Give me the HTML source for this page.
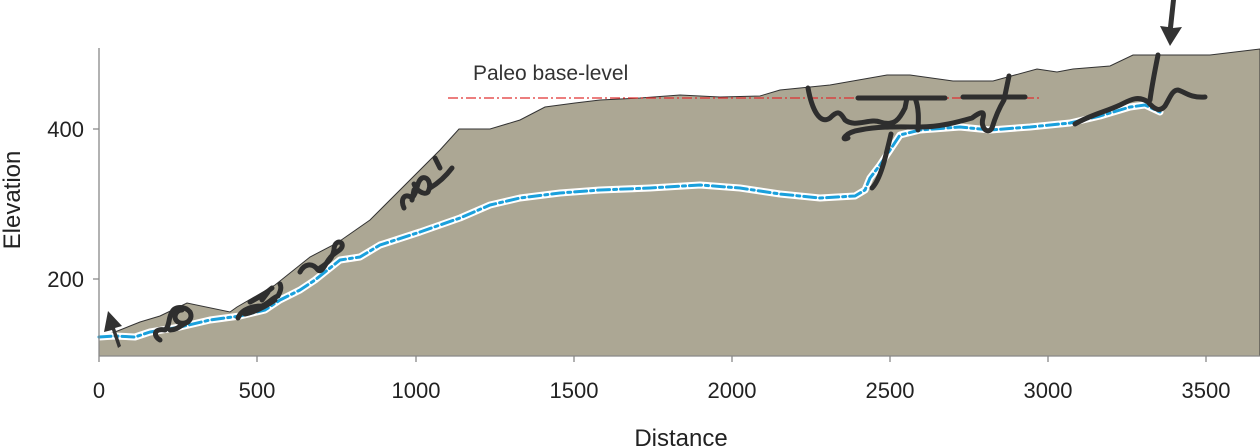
<!DOCTYPE html>
<html><head><meta charset="utf-8"><style>
html,body{margin:0;padding:0;background:#fff;}
svg{display:block;font-family:"Liberation Sans",sans-serif;}
</style></head><body>
<svg width="1260" height="446" viewBox="0 0 1260 446">
<path d="M99,338 L120,330 L140,322 L160,316 L187,303 L230,312 L237,307 L275,285 L310,257 L337,243 L370,220 L440,150 L459,129 L490,129 L520,120 L545,107 L575,103 L600,100 L640,98 L680,95 L720,97 L760,96 L780,90 L830,85 L887,75 L910,75 L953,81 L993,81 L1037,69 L1057,72 L1073,69 L1110,66 L1133,55 L1210,55 L1260,49 L1260,356 L99,356 Z" fill="#aca794" stroke="#333" stroke-width="1"/>
<path d="M448,98 L1042,98" stroke="#e03030" stroke-width="1.3" stroke-dasharray="10,3,2,3" fill="none"/>
<text x="473" y="80" font-size="21" fill="#333">Paleo base-level</text>
<g fill="none" stroke-linecap="round" stroke-linejoin="round">
<path d="M99,337 L115,336 L135,337 L150,332 L180,327 L210,320 L240,316 L265,310 L280,300 L300,290 L315,280 L340,260 L360,257 L380,245 L420,232 L460,218 L490,205 L520,198 L560,193 L600,190 L650,188 L700,185 L740,188 L780,194 L820,198 L855,196 L865,190 L870,178 L880,165 L890,150 L900,135 L920,130 L960,127 L990,130 L1030,127 L1070,123 L1100,116 L1130,107 L1145,105 L1160,112" stroke="#fff" stroke-width="7"/>
<path d="M99,337 L115,336 L135,337 L150,332 L180,327 L210,320 L240,316 L265,310 L280,300 L300,290 L315,280 L340,260 L360,257 L380,245 L420,232 L460,218 L490,205 L520,198 L560,193 L600,190 L650,188 L700,185 L740,188 L780,194 L820,198 L855,196 L865,190 L870,178 L880,165 L890,150 L900,135 L920,130 L960,127 L990,130 L1030,127 L1070,123 L1100,116 L1130,107 L1145,105 L1160,112" stroke="#1aa0dc" stroke-width="3" stroke-dasharray="12,4,3,4"/>
<g stroke="#2e2e2e" stroke-width="5">
<path d="M160,340 C152,335 155,328 165,330 C170,326 168,318 172,312 C175,306 185,306 190,312 C194,320 185,326 178,322 C172,318 176,310 182,310 M170,330 C178,330 182,324 188,322"/>
<path d="M238,318 C242,308 255,306 262,306 C268,304 272,298 278,296 C280,292 282,288 280,284 M245,314 C255,312 266,306 275,300 M262,300 L268,292 M272,288 C265,294 258,298 250,302"/>
<path d="M300,272 C304,264 312,262 318,270 C322,274 326,262 330,258 C334,252 344,250 342,244 C340,240 334,242 334,250 C332,260 326,264 320,268"/>
<path d="M404,208 C400,200 404,192 412,198 C418,192 416,182 422,178 C428,176 432,184 428,192 C424,196 416,190 414,184 M412,200 L414,190 M430,188 C440,182 446,176 452,168 M435,158 L440,168"/>
<path d="M808,88 C812,110 820,125 830,118 C838,110 840,112 845,120 C855,128 870,118 880,122 C895,127 900,118 905,108 L907,98 M848,138 C840,142 845,132 860,130 C880,126 900,127 920,127 C940,127 958,122 972,118 C980,112 985,110 983,118 C980,128 988,135 992,128 C995,118 998,110 1004,100 L1009,76 M858,98 L945,98 M963,97 L1025,97 M915,98 C920,110 918,125 918,130 M891,134 C885,160 880,180 872,188"/>
<path d="M1075,124 C1090,115 1105,112 1120,105 C1130,100 1138,95 1148,102 C1155,110 1160,112 1165,106 C1170,98 1172,90 1178,90 C1185,92 1190,98 1205,97 M1150,100 C1152,85 1155,70 1158,55"/>
</g>
</g>
<path d="M118,348 L112,330 L104,332 L108,311 L122,326 L115,328 L121,346 Z" fill="#333"/>
<path d="M1176,0 L1173,28 L1182,27 L1170,46 L1160,26 L1168,27 L1171,0 Z" fill="#333"/>
<g stroke="#888" stroke-width="1.3">
<path d="M99,48 L99,362 M99,356 L1260,356"/>
<path d="M257,356 V362 M416,356 V362 M574,356 V362 M732,356 V362 M890,356 V362 M1048,356 V362 M1206,356 V362 M93,129 H99 M93,279 H99"/>
</g>
<g font-size="22" fill="#222" text-anchor="middle">
<text x="99" y="398">0</text><text x="257" y="398">500</text><text x="416" y="398">1000</text>
<text x="574" y="398">1500</text><text x="732" y="398">2000</text><text x="890" y="398">2500</text>
<text x="1048" y="398">3000</text><text x="1206" y="398">3500</text>
<text x="681" y="446" font-size="24">Distance</text>
<text x="0" y="0" font-size="24" transform="translate(20,200) rotate(-90)">Elevation</text>
</g>
<g font-size="22" fill="#222" text-anchor="end">
<text x="84" y="137">400</text><text x="84" y="287">200</text>
</g>
</svg>
</body></html>
